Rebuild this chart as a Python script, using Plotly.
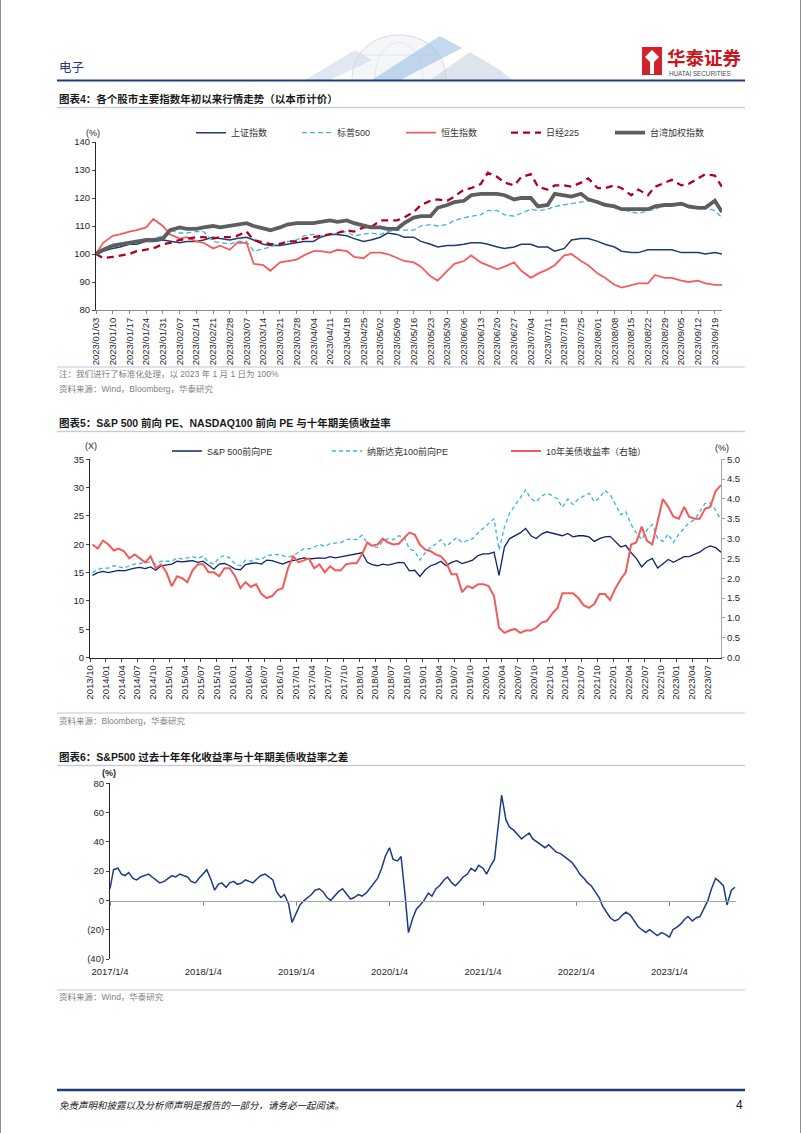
import plotly.graph_objects as go
import pandas as pd

W, H = 802, 1133
def fx(x): return x / W
def fy(y): return 1 - y / H

FONT = "Liberation Sans, Arial, Noto Sans CJK SC, sans-serif"

# ---------------- Chart 1 data (Tue / Fri samples) ----------------
c1_tue = pd.date_range('2023-01-03', '2023-09-19', freq='7D')
c1_dates = sorted(list(c1_tue) + list(c1_tue + pd.Timedelta(days=3)))

sse = [100,101, 102,102.5, 103.5,103.5, 104.5,104.5, 105,104.5, 104,104.5, 104.5,105, 106,105.5, 105,105.5, 106,105,
       103.5,103, 103,103.5, 104,104.5, 104.5,106, 107,107, 106.5,105.5, 104.5,105, 106,107.5, 107,106, 106,104.5,
       103.5,102.5, 103,103, 103.5,104, 104,103.5, 102.5,102, 102.5,103.5, 103.5,102.5, 102.5,101, 102,105, 105.5,105.5,
       104.5,103.5, 102.5,101, 100.5,100.5, 101.5,101.5, 101.5,101.5, 100.5,100.5, 100.5,100, 100.5,100]
spx = [100,101, 103,103.5, 103.5,104, 105,105.5, 106.5,108.5, 107.5,107.5, 108,108, 104.5,104, 103.5,104.5, 104.5,101,
       102,102.5, 104,104.5, 105,106.5, 107,106.5, 107,107.5, 108,106.5, 107,107.5, 107,108, 108.5,108.5, 108.5,110,
       110.5,110, 110.5,112, 113,113.5, 114,115.5, 115.5,114, 113.5,114.5, 116,115.5, 116,117, 117.5,118, 118.5,119,
       119,118, 117.5,116, 115,114.5, 115.5,116, 117.5,118, 117.5,116.5, 116.5,116.5, 115.5,113]
hsi = [100,104, 106.5,107, 108,108.5, 109.5,112.5, 110,107, 105.5,106, 104.5,104, 102,103, 101.5,104, 104,96.5,
       96,94, 97,97.5, 98,99.5, 101,101, 100.5,101.5, 101,99, 98.5,100.5, 100.5,100, 98.5,97.5, 97,95.5,
       92,90.5, 94,96.5, 97.5,99.5, 97,96, 94.5,95.5, 97,94, 91.5,93, 94.5,96, 99.5,100, 97.5,96,
       93,91.5, 89,88, 89,89.5, 89.5,92.5, 91.5,91.5, 90.5,90, 90.5,89.5, 89,89]
n225 = [100,98.5, 99,99.5, 100,101, 101.5,102, 103.5,104, 105,105.5, 106,106, 105.5,106, 106,106.5, 108,105,
        104,103.5, 103.5,104.5, 104.5,105.5, 106,106.5, 107,107.5, 108.5,108, 109.5,109.5, 112,112, 112,113, 115,117.5,
        119,119.5, 119,120.5, 123,123.5, 125,129, 127.5,125.5, 124.5,127.5, 128.5,124, 123,124.5, 124.5,124, 125.5,127,
        123.5,123.5, 124.5,123.5, 121,123, 121,124, 125.5,126.5, 124.5,125, 127,128.5, 128,124]
twii = [100,101.5, 103,103.5, 104,104.5, 105,105, 105.5,108.5, 109.5,109, 109,109.5, 110,109.5, 110,110.5, 111,110,
        109,108.5, 109.5,110.5, 111,111, 111,111.5, 112,111.5, 112,111, 110,109.5, 109.5,109, 109,111, 113,113.5,
        113.5,116.5, 117.5,118.5, 119,121, 121.5,121.5, 121.5,121, 119.5,120, 120,117, 117.5,121.5, 121,120.5, 121.5,119.5,
        118.5,117.5, 117,116, 116,116, 116,117, 117.5,117.5, 118,117, 116.5,116.5, 119,115]

# ---------------- Chart 2 data (monthly, mid-month) ----------------
c2_dates = pd.date_range('2013-10-01', periods=120, freq='MS') + pd.Timedelta(days=14)
c2_ticks = pd.date_range('2013-10-01', '2023-07-01', freq='3MS')

spx_pe = [14.5, 15.0, 15.2,
          15.0, 15.2, 15.4, 15.3, 15.6, 15.8, 15.9, 15.7, 16.0, 15.4, 16.2, 16.3,
          16.5, 17.0, 16.9, 17.0, 17.1, 16.8, 17.0, 16.3, 15.6, 16.5, 16.6, 16.2,
          15.6, 15.5, 16.4, 16.6, 16.7, 16.5, 17.2, 17.1, 16.8, 16.5, 16.9, 17.1,
          17.3, 17.6, 17.4, 17.5, 17.6, 17.5, 17.8, 17.6, 17.8, 18.0, 18.1, 18.3,
          18.5, 16.8, 16.4, 16.2, 16.5, 16.3, 16.6, 16.8, 16.7, 15.3, 15.4, 14.3,
          15.5, 16.2, 16.5, 17.0, 16.2, 16.8, 17.1, 16.6, 16.9, 17.2, 18.0, 18.3,
          18.3, 18.6, 14.5, 19.5, 21.0, 21.5, 22.0, 22.8, 21.5, 21.0, 21.8, 22.2,
          22.0, 21.8, 21.5, 21.9, 21.3, 21.5, 21.5, 21.3, 20.5, 21.0, 21.3, 21.4,
          20.5, 19.5, 19.8, 18.5, 17.5, 16.0, 17.0, 17.5, 15.8, 16.5, 17.3, 16.8,
          17.3, 17.8, 17.8, 18.2, 18.6, 19.3, 19.7, 19.4, 18.6]
ndx_pe = [15.0, 15.5, 15.8,
          15.8, 16.2, 16.0, 15.8, 16.2, 16.5, 16.6, 16.7, 16.9, 16.5, 17.0, 17.0,
          17.0, 17.6, 17.4, 17.6, 17.8, 17.5, 17.9, 16.8, 16.5, 17.6, 18.0, 17.6,
          16.5, 16.2, 17.2, 17.0, 17.4, 17.3, 18.0, 18.1, 18.2, 18.0, 17.7, 18.0,
          18.6, 19.2, 19.2, 19.5, 20.0, 19.6, 20.1, 20.2, 20.3, 20.8, 20.9, 20.8,
          21.6, 20.2, 19.6, 19.4, 20.5, 21.0, 20.8, 21.5, 21.3, 19.2, 18.8, 17.2,
          18.5, 19.5, 20.0, 20.8, 19.6, 20.4, 21.2, 20.3, 20.6, 21.0, 22.0, 22.8,
          23.5, 24.5, 19.0, 23.0, 25.5, 26.8, 28.2, 29.6, 28.0, 27.5, 28.5, 29.0,
          28.6, 28.0, 26.5, 28.0, 27.0, 28.0, 28.5, 29.0, 27.5, 28.2, 29.5, 28.8,
          27.0, 25.2, 25.8, 23.5, 22.0, 20.8, 22.5, 23.5, 21.0, 20.5, 21.8, 20.3,
          21.8, 22.8, 23.8, 24.3, 25.8, 27.2, 27.3, 26.0, 24.3]
ust10 = [2.85, 2.75, 2.95,
         2.85, 2.70, 2.75, 2.68, 2.50, 2.60, 2.50, 2.40, 2.55, 2.25, 2.35, 2.15,
         1.80, 2.05, 2.00, 1.90, 2.20, 2.35, 2.35, 2.15, 2.15, 2.05, 2.25, 2.25,
         2.05, 1.75, 1.90, 1.78, 1.85, 1.60, 1.50, 1.55, 1.70, 1.75, 2.25, 2.55,
         2.40, 2.45, 2.50, 2.25, 2.35, 2.15, 2.30, 2.20, 2.20, 2.35, 2.38, 2.38,
         2.60, 2.90, 2.82, 2.85, 3.00, 2.90, 2.85, 2.87, 3.00, 3.15, 3.10, 2.85,
         2.72, 2.68, 2.60, 2.55, 2.40, 2.10, 2.10, 1.65, 1.80, 1.75, 1.85, 1.85,
         1.80, 1.55, 0.75, 0.62, 0.68, 0.72, 0.62, 0.68, 0.68, 0.75, 0.88, 0.92,
         1.10, 1.25, 1.62, 1.62, 1.62, 1.50, 1.32, 1.25, 1.35, 1.60, 1.60, 1.45,
         1.75, 1.98, 2.15, 2.85, 2.90, 3.30, 2.95, 2.85, 3.45, 4.00, 3.80, 3.55,
         3.50, 3.80, 3.55, 3.50, 3.50, 3.75, 3.80, 4.20, 4.35]

# ---------------- Chart 3 data (semi-monthly) ----------------
c3_dates = pd.date_range('2017-01-01', '2023-09-30', freq='SMS') + pd.Timedelta(days=3)
c3_ticks = pd.to_datetime(['2017-01-04', '2018-01-04', '2019-01-04', '2020-01-04',
                           '2021-01-04', '2022-01-04', '2023-01-04'])
c3_ticktext = ['2017/1/4', '2018/1/4', '2019/1/4', '2020/1/4', '2021/1/4', '2022/1/4', '2023/1/4']
spread = [8,21, 22,18, 17,19, 15,14, 16,17, 18,16, 14,12, 13,15, 17,16, 18,17, 16,13, 12,15,
          18,21, 14,7, 11,12, 9,12, 13,11, 12,14, 13,12, 15,17, 18,16, 14,6, 2,4, -2,-15,
          -8,-3, 0,2, 4,7, 8,6, 2,0, 3,6, 8,5, 1,2, 4,3, 5,8, 12,15, 22,30,
          36,28, 27,30, 5,-22, -12,-6, -3,0, 5,3, 8,10, 14,16, 12,10, 13,16, 18,22, 20,24,
          22,18, 24,28, 50,72, 55,50, 48,45, 42,44, 46,42, 40,38, 36,38, 35,33, 32,30, 28,26,
          22,18, 15,12, 10,6, 2,-4, -8,-12, -14,-13, -10,-8, -10,-14, -18,-20, -22,-20, -22,-24, -22,-23,
          -25,-20, -18,-16, -13,-11, -14,-12, -11,-6, 0,8, 15,13, 10,-3, 7,9]
c3_yticks = [-40, -20, 0, 20, 40, 60, 80]
c3_yticktext = ['(40)', '(20)', '0', '20', '40', '60', '80']

for arr in (sse, spx, hsi, n225, twii):
    assert len(arr) == len(c1_dates), len(arr)
for arr in (spx_pe, ndx_pe, ust10):
    assert len(arr) == len(c2_dates), len(arr)
assert len(spread) == len(c3_dates), (len(spread), len(c3_dates))

fig = go.Figure()

c1_series = [
    ('上证指数', sse, '#1f3b70', 1.5, 'solid', 'legend', 198),
    ('标普500', spx, '#3cb6d9', 1.3, '5px,3px', 'legend2', 304),
    ('恒生指数', hsi, '#f65c5c', 1.8, 'solid', 'legend3', 408),
    ('日经225', n225, '#b0001e', 2.3, '7px,5px', 'legend4', 513),
    ('台湾加权指数', twii, '#5e5e5e', 3.8, 'solid', 'legend5', 617),
]
for name, vals, col, w, dash, lg, _ in c1_series:
    fig.add_trace(go.Scatter(x=c1_dates, y=vals, name=name, mode='lines',
                             line=dict(color=col, width=w, dash=dash),
                             xaxis='x', yaxis='y', legend=lg))

c2_series = [
    ('S&P 500前向PE', spx_pe, '#0e2468', 1.3, 'solid', 'legend6', 173, 'y2'),
    ('纳斯达克100前向PE', ndx_pe, '#35b5e5', 1.3, '4px,3px', 'legend7', 333, 'y2'),
    ('10年美债收益率（右轴）', ust10, '#f5595a', 2.0, 'solid', 'legend8', 512, 'y3'),
]
for name, vals, col, w, dash, lg, _, ya in c2_series:
    fig.add_trace(go.Scatter(x=c2_dates, y=vals, name=name, mode='lines',
                             line=dict(color=col, width=w, dash=dash),
                             xaxis='x2', yaxis=ya, legend=lg))

fig.add_trace(go.Scatter(x=c3_dates, y=spread, mode='lines', showlegend=False,
                         line=dict(color='#1b3c87', width=1.5), xaxis='x3', yaxis='y4'))

legend_common = dict(xanchor='left', yanchor='middle', orientation='h', bgcolor='rgba(0,0,0,0)',
                     borderwidth=0, font=dict(size=9, color='#333333', family=FONT), itemwidth=30)
legends = {}
for (name, vals, col, w, dash, lg, xs) in c1_series:
    legends[lg] = dict(legend_common, x=fx(xs - 7), y=fy(132.7))
for (name, vals, col, w, dash, lg, xs, ya) in c2_series:
    legends[lg] = dict(legend_common, x=fx(xs - 6), y=fy(451))

axis_font = dict(size=9.5, color='#262626', family=FONT)

layout = dict(
    width=W, height=H, margin=dict(l=0, r=0, t=0, b=0, pad=0, autoexpand=False),
    paper_bgcolor='white', plot_bgcolor='white',
    font=dict(family=FONT, size=9, color='#262626'),
    showlegend=True,
    xaxis=dict(domain=[fx(96), fx(722)], anchor='y', type='date',
               range=['2023-01-03', '2023-09-22'], tickvals=list(c1_tue), tickformat='%Y/%m/%d',
               tickangle=-90, showgrid=False, showline=True, linecolor='#8c8c8c', linewidth=1,
               ticks='outside', ticklen=3, tickcolor='#8c8c8c', tickfont=axis_font, zeroline=False),
    yaxis=dict(domain=[fy(310), fy(142)], anchor='x', range=[80, 140], dtick=10,
               showgrid=False, showline=True, linecolor='#262626', ticks='outside', ticklen=3,
               tickfont=axis_font, zeroline=False),
    xaxis2=dict(domain=[fx(90), fx(721)], anchor='y2', type='date',
                range=['2013-10-01', '2023-09-15'], tickvals=list(c2_ticks), tickformat='%Y/%m',
                tickangle=-90, showgrid=False, showline=True, linecolor='#262626',
                ticks='outside', ticklen=3, tickfont=axis_font, zeroline=False),
    yaxis2=dict(domain=[fy(657.5), fy(459.3)], anchor='x2', range=[0, 35], dtick=5,
                showgrid=False, showline=True, linecolor='#262626', ticks='outside', ticklen=3,
                tickfont=axis_font, zeroline=False),
    yaxis3=dict(overlaying='y2', anchor='x2', side='right', range=[0, 5], dtick=0.5, tickformat='.1f',
                showgrid=False, showline=True, linecolor='#a6a6a6', ticks='outside', ticklen=3,
                tickcolor='#a6a6a6', tickfont=axis_font, zeroline=False),
    xaxis3=dict(domain=[fx(110), fx(736)], anchor='free', position=fy(901), type='date',
                range=['2017-01-04', '2023-09-22'], tickvals=list(c3_ticks), ticktext=c3_ticktext,
                showgrid=False, showline=True, linecolor='#a6a6a6', ticks='outside', ticklen=4,
                tickcolor='#8c8c8c', tickfont=axis_font, ticklabelstandoff=58, zeroline=False),
    yaxis4=dict(domain=[fy(959), fy(783.3)], anchor='x3', range=[-40, 80], tickvals=c3_yticks,
                ticktext=c3_yticktext, showgrid=False, showline=True, linecolor='#262626',
                ticks='outside', ticklen=3, tickfont=axis_font, zeroline=False),
)
layout.update(legends)
fig.update_layout(**layout)

# ---------------- page decorations ----------------
def hline(y, x0, x1, color, width):
    fig.add_shape(type='line', xref='paper', yref='paper', x0=fx(x0), x1=fx(x1), y0=fy(y), y1=fy(y),
                  line=dict(color=color, width=width))

def text(x, y, s, size, color='#262626', xanchor='left', bold=False, family=FONT):
    fig.add_annotation(xref='paper', yref='paper', x=fx(x), y=fy(y), text=('<b>%s</b>' % s) if bold else s,
                       showarrow=False, xanchor=xanchor, yanchor='middle',
                       font=dict(size=size, color=color, family=family))

def path(pts, fill, line_col=None, lw=0, close=True):
    d = 'M ' + ' L '.join('%f %f' % (fx(a), fy(b)) for a, b in pts) + (' Z' if close else '')
    fig.add_shape(type='path', xref='paper', yref='paper', path=d,
                  line=dict(color=line_col or 'rgba(0,0,0,0)', width=lw), fillcolor=fill)

# header graphics (faint globe and ribbons)
fig.add_shape(type='path', xref='paper', yref='paper',
              path='M %f %f C %f %f, %f %f, %f %f' % (fx(352), fy(80), fx(352), fy(20), fx(446), fy(20), fx(446), fy(80)),
              line=dict(color='#d5dbe3', width=1), fillcolor='rgba(236,240,245,0.6)')
fig.add_shape(type='path', xref='paper', yref='paper',
              path='M %f %f C %f %f, %f %f, %f %f' % (fx(375), fy(80), fx(375), fy(30), fx(423), fy(30), fx(423), fy(80)),
              line=dict(color='#dde2e9', width=0.8), fillcolor='rgba(0,0,0,0)')
hline(55, 358, 440, '#dde2e9', 0.8)
path([(305, 80), (355, 50), (372, 60), (330, 80)], 'rgba(200,214,230,0.55)')
path([(372, 80), (440, 36), (462, 48), (400, 80)], 'rgba(150,185,220,0.55)')
path([(430, 80), (470, 52), (500, 70), (512, 80)], 'rgba(200,210,222,0.6)')

# logo
fig.add_shape(type='rect', xref='paper', yref='paper', x0=fx(642), x1=fx(662), y0=fy(75), y1=fy(47),
              line=dict(width=0), fillcolor='#d2232a')
path([(652, 50), (659, 57), (652, 64), (645, 57)], 'white')
fig.add_shape(type='rect', xref='paper', yref='paper', x0=fx(650), x1=fx(654), y0=fy(74), y1=fy(62),
              line=dict(width=0), fillcolor='white')
text(665, 56.5, '华泰证券', 18.5, '#c8161d', bold=True, family='Noto Sans CJK SC')
text(667, 73, 'HUATAI SECURITIES', 6.3, '#4d4d4d')
text(57, 67, '电子', 12.5, '#1f3c78', family='Noto Sans CJK SC')

hline(80.5, 57, 745, '#1f3c78', 2)

# chart titles and separators
text(57, 99, '图表4：各个股市主要指数年初以来行情走势（以本币计价）', 10.5, '#1a1a1a', bold=True)
hline(107.5, 57, 745, '#c5cdd8', 1.5)
text(57, 423, '图表5：S&P 500 前向 PE、NASDAQ100 前向 PE 与十年期美债收益率', 10.5, '#1a1a1a', bold=True)
hline(431.5, 57, 745, '#c5cdd8', 1.5)
text(57, 757, '图表6：S&P500 过去十年年化收益率与十年期美债收益率之差', 10.5, '#1a1a1a', bold=True)
hline(765.5, 57, 745, '#c5cdd8', 1.5)

hline(367, 57, 745, '#b7c8e2', 1.2)
hline(713, 57, 745, '#b7c8e2', 1.2)
hline(990, 57, 745, '#b7c8e2', 1.2)

# units
text(84, 133, '(%)', 9)
text(83, 446, '(X)', 9)
text(713, 448, '(%)', 9)
text(100, 773, '(%)', 9, bold=True)

# notes / sources
text(57, 374, '注：我们进行了标准化处理，以 2023 年 1 月 1 日为 100%', 8.5, '#808080')
text(57, 389, '资料来源：Wind，Bloomberg，华泰研究', 8.5, '#808080')
text(57, 721, '资料来源：Bloomberg，华泰研究', 8.5, '#808080')
text(57, 997, '资料来源：Wind，华泰研究', 8.5, '#808080')

# footer
hline(1090, 57, 745, '#1f3c78', 2.5)
text(57, 1105, '<i>免责声明和披露以及分析师声明是报告的一部分，请务必一起阅读。</i>', 9.5, '#1a1a1a')
text(745, 1105, '4', 12, '#1a1a1a', xanchor='right')

# page edges
fig.add_shape(type='line', xref='paper', yref='paper', x0=fx(800.5), x1=fx(800.5), y0=0, y1=1,
              line=dict(color='#8c8c8c', width=1))
fig.add_shape(type='line', xref='paper', yref='paper', x0=fx(0.5), x1=fx(0.5), y0=0, y1=1,
              line=dict(color='#8c8c8c', width=1))

fig.write_html("out.html", config={'displayModeBar': False},
               post_script="document.body.style.margin='0';document.body.style.overflow='hidden';")
